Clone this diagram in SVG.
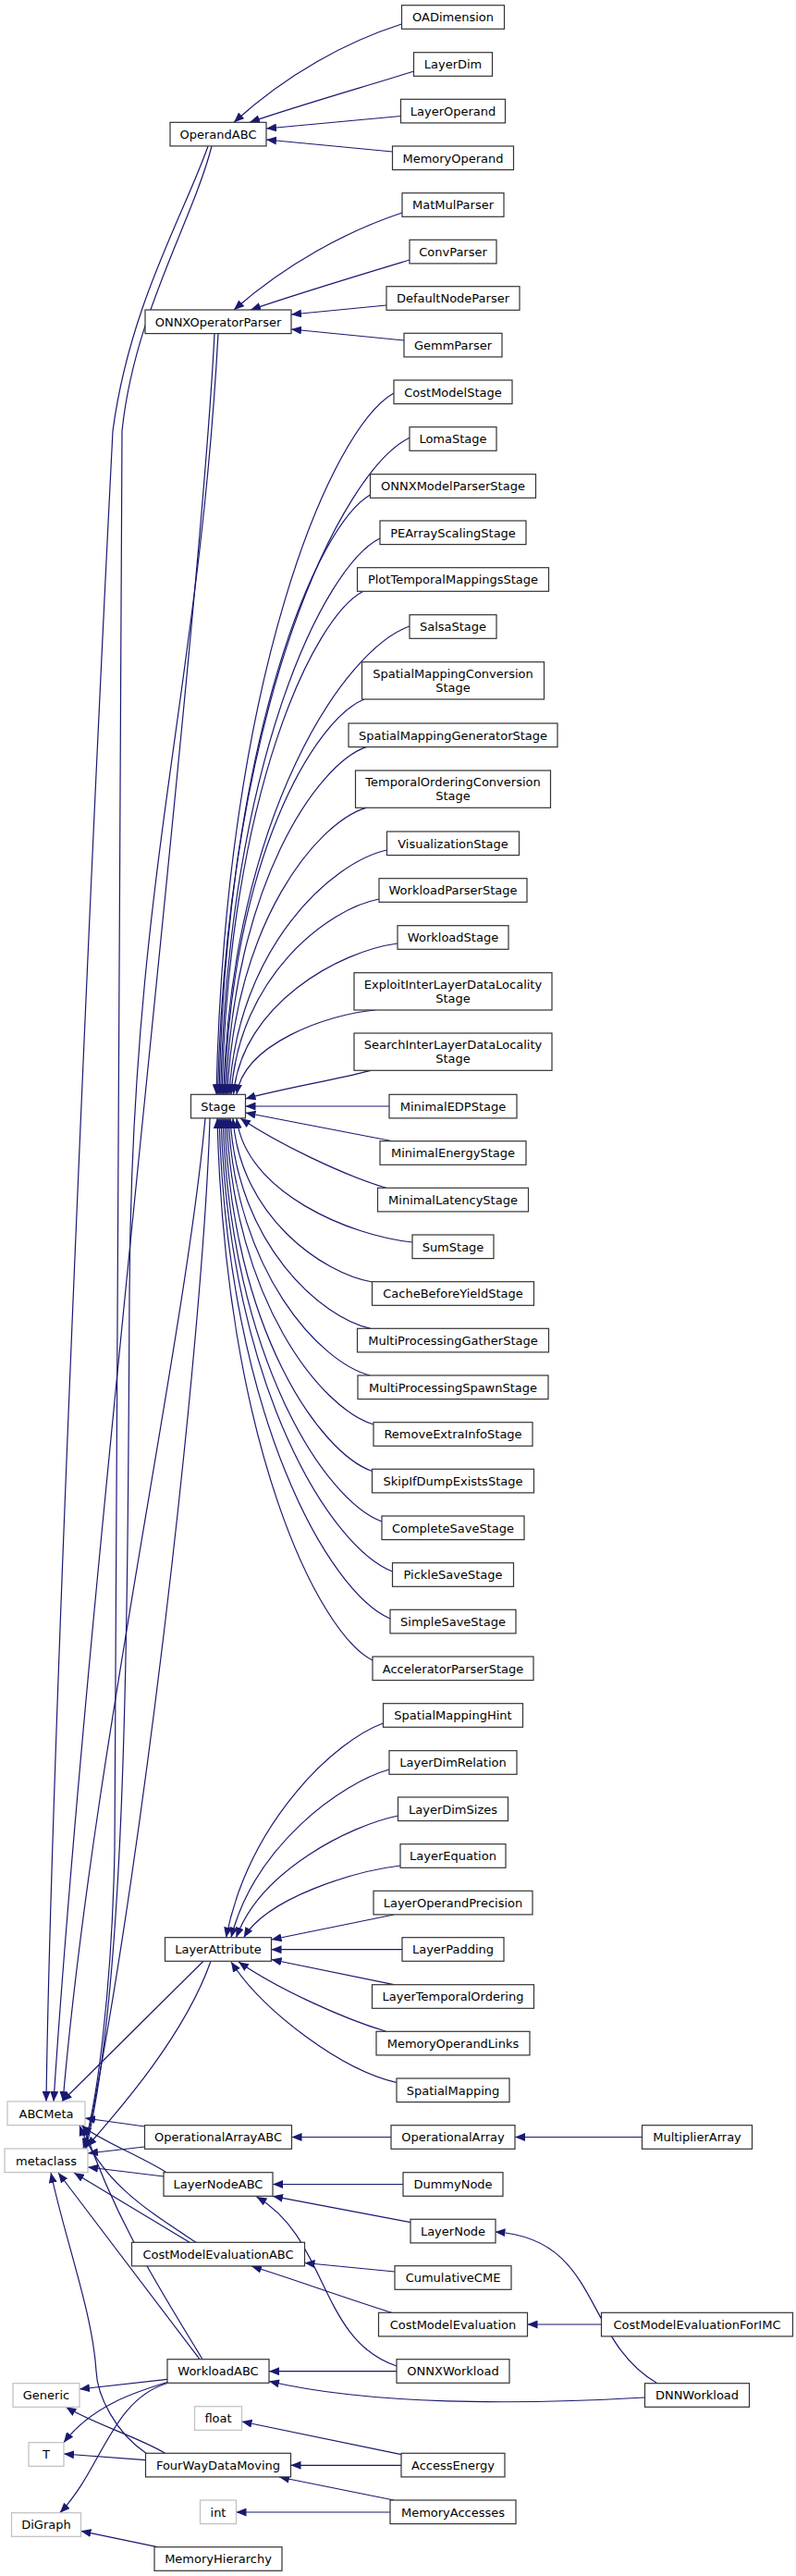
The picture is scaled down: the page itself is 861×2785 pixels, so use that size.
<svg xmlns="http://www.w3.org/2000/svg" width="861" height="2785" viewBox="0 0 861 2785">
<defs>
<style>
.n rect{fill:#fff;stroke:#333;stroke-width:1.2}
.x rect{fill:#fff;stroke:#bfbfbf;stroke-width:1.2}
text{font-family:"DejaVu Sans","Liberation Sans",sans-serif;font-size:13px;text-anchor:middle;fill:#000}
#edges path{fill:none;stroke:#191970;stroke-width:1.2;marker-end:url(#a)}
</style>
<marker id="a" markerUnits="userSpaceOnUse" markerWidth="11" markerHeight="9" refX="11" refY="4.5" orient="auto"><path d="M0,0 L11,4.5 L0,9 z" fill="#191970"/></marker>
</defs>
<rect width="861" height="2785" fill="#fff"/>
<g id="edges">
<path d="M434.5,26 C375,45 310,80 253,132.3"/>
<path d="M448,77 C390,95 320,115 270,132.3"/>
<path d="M433.5,125.5 L288,139"/>
<path d="M424.5,164 L288,151"/>
<path d="M435,230 C375,250 310,285 253,335"/>
<path d="M443,281 C390,297 320,318 271,335"/>
<path d="M418,330 L315,340"/>
<path d="M437,368 L315,356"/>
<path d="M426,425 C358.8,462.9 243.6,728.5 234,1183.3"/>
<path d="M443,473.3 C370.4,508.8 245.9,757.3 235.5,1183.3"/>
<path d="M400.5,535 C343.3,567.4 245.2,794.5 237,1183.3"/>
<path d="M411,582 C350.6,612 247.1,822.7 238.5,1183.3"/>
<path d="M393,639.3 C339.5,666.5 247.7,857 240,1183.3"/>
<path d="M443,677 C372.5,702 251.6,879.7 241.5,1183.3"/>
<path d="M394,756 C341,777 250.6,927 243,1183.3"/>
<path d="M396,807.6 C343,826 252,957.7 244.5,1183.3"/>
<path d="M396,873.3 C343.5,888.8 253.5,997.3 246,1183.3"/>
<path d="M418.5,919 C358.8,932 256.5,1024.9 248,1183.3"/>
<path d="M410,972 C354,982.6 258,1056.7 250,1183.3"/>
<path d="M430,1020 C367.9,1028 261.4,1085.5 252.5,1183.3"/>
<path d="M406,1092 C353.5,1096.6 263.5,1128.7 256,1183.3"/>
<path d="M401,1157.3 C360,1168 300,1178 265.5,1188"/>
<path d="M421,1196 L265.5,1196"/>
<path d="M426,1234 L265.5,1203"/>
<path d="M417.6,1284.3 C370,1270 300,1236 260,1209"/>
<path d="M446,1343 C379.5,1336.3 265.5,1289.4 256,1209"/>
<path d="M402.5,1386 C349.8,1377.2 259.5,1315.2 252,1209"/>
<path d="M401,1436.3 C347.8,1425 256.6,1345.4 249,1209"/>
<path d="M400,1487 C346.5,1473.1 254.7,1375.8 247,1209"/>
<path d="M404,1540 C348.4,1523.5 253,1407.6 245,1209"/>
<path d="M402.5,1590.5 C346.7,1571.4 251,1437.9 243,1209"/>
<path d="M413,1645 C352.8,1623.2 249.6,1470.6 241,1209"/>
<path d="M424.5,1699 C359.6,1674.5 248.3,1503 239,1209"/>
<path d="M422,1750 C357.3,1723 246.3,1533.6 237,1209"/>
<path d="M403,1795 C344.2,1765.7 243.4,1560.6 235,1209"/>
<path d="M414.5,1863 C363.5,1881.5 270,1967.3 244.5,2094.7"/>
<path d="M421,1913 C369.7,1927.5 275.7,1994.8 250,2094.7"/>
<path d="M431,1963 C378.4,1973.5 281.8,2022.3 255.5,2094.7"/>
<path d="M433,2017 C382.2,2023.2 289.1,2052 263.7,2094.7"/>
<path d="M426,2070 L293.5,2097"/>
<path d="M435,2107.7 L293.5,2107.7"/>
<path d="M426,2145.7 L293.5,2118.5"/>
<path d="M417.6,2196.3 C370,2182 300,2150 258,2121"/>
<path d="M428.6,2251.3 C370,2238 285,2175 250,2121"/>
<path d="M423,2310.5 L315.5,2310.5"/>
<path d="M694.5,2310.5 L557,2310.5"/>
<path d="M436,2361.5 L295,2361.5"/>
<path d="M444,2402.7 L295,2374.3"/>
<path d="M429,2558 C345,2530 355,2420 277.5,2375"/>
<path d="M427,2456 L329.5,2446.5"/>
<path d="M425.8,2501 C360,2480 320,2465 272,2450"/>
<path d="M650.5,2513 L570.5,2513"/>
<path d="M711,2576.7 C630,2530 650,2420 535.5,2413"/>
<path d="M429,2563.7 L291,2563.7"/>
<path d="M697.5,2592 C560,2600 400,2600 291,2574.5"/>
<path d="M434,2653.7 L261.5,2618"/>
<path d="M434,2665.3 L314.5,2665.3"/>
<path d="M426,2703 L302,2678"/>
<path d="M422,2716 L255.5,2716"/>
<path d="M170.3,2753.7 L87.5,2736.3"/>
<path d="M181,2572.3 L86,2583"/>
<path d="M181,2575.5 C150,2585 100,2600 69,2640.7"/>
<path d="M181,2576.5 C120,2595 110,2670 64.8,2716.7"/>
<path d="M157.5,2659.7 L69,2653"/>
<path d="M178.6,2652.3 C150,2635 100,2620 71.4,2602.3"/>
<path d="M225,158 C200,230 140,330 122,466 C100,900 55,1900 50,2272"/>
<path d="M229,158 C208,240 145,340 132,466 C128,1000 128,1800 124,2000 C121,2150 105,2275 90,2323"/>
<path d="M232,360.6 C215,700 95,1700 58,2272"/>
<path d="M236,360.6 C215,750 142,950 140,1400 C138,1800 135,2150 93,2323"/>
<path d="M222,1208.9 C200,1450 100,1900 68,2272"/>
<path d="M227,1208.9 C220,1450 150,2050 92,2323"/>
<path d="M220,2120.3 L67,2272"/>
<path d="M228,2120.3 C200,2200 130,2280 94,2321"/>
<path d="M156.5,2299 L92,2290"/>
<path d="M156.5,2321 L95,2328"/>
<path d="M177,2353 L95,2343"/>
<path d="M180,2348.7 C150,2330 110,2315 88,2298"/>
<path d="M205,2424.3 L80,2349"/>
<path d="M212,2424.3 C160,2390 110,2360 86,2298"/>
<path d="M216,2550.7 L63,2349"/>
<path d="M219,2550.7 C170,2470 125,2400 90,2298"/>
<path d="M158,2652.3 C125,2630 105,2590 104,2563 C100,2500 70,2420 55,2349"/>
</g>
<g id="OADimension" class="n"><rect x="434.5" y="5.7" width="111" height="25.6"/><text x="490" y="23.2">OADimension</text></g>
<g id="LayerDim" class="n"><rect x="447.5" y="56.7" width="85" height="25.6"/><text x="490" y="74.2">LayerDim</text></g>
<g id="LayerOperand" class="n"><rect x="433.5" y="107.3" width="113" height="25.6"/><text x="490" y="124.8">LayerOperand</text></g>
<g id="MemoryOperand" class="n"><rect x="424.5" y="158" width="131" height="25.6"/><text x="490" y="175.5">MemoryOperand</text></g>
<g id="MatMulParser" class="n"><rect x="435" y="208.7" width="110" height="25.6"/><text x="490" y="226.2">MatMulParser</text></g>
<g id="ConvParser" class="n"><rect x="443" y="259.3" width="94" height="25.6"/><text x="490" y="276.8">ConvParser</text></g>
<g id="DefaultNodeParser" class="n"><rect x="418" y="309.7" width="144" height="25.6"/><text x="490" y="327.2">DefaultNodeParser</text></g>
<g id="GemmParser" class="n"><rect x="437" y="360.3" width="106" height="25.6"/><text x="490" y="377.8">GemmParser</text></g>
<g id="CostModelStage" class="n"><rect x="426" y="411" width="128" height="25.6"/><text x="490" y="428.5">CostModelStage</text></g>
<g id="LomaStage" class="n"><rect x="443" y="461.7" width="94" height="25.6"/><text x="490" y="479.2">LomaStage</text></g>
<g id="ONNXModelParserStage" class="n"><rect x="400.5" y="512.7" width="179" height="25.6"/><text x="490" y="530.2">ONNXModelParserStage</text></g>
<g id="PEArrayScalingStage" class="n"><rect x="411" y="563" width="158" height="25.6"/><text x="490" y="580.5">PEArrayScalingStage</text></g>
<g id="PlotTemporalMappingsStage" class="n"><rect x="386.5" y="613.7" width="207" height="25.6"/><text x="490" y="631.2">PlotTemporalMappingsStage</text></g>
<g id="SalsaStage" class="n"><rect x="443" y="664.7" width="94" height="25.6"/><text x="490" y="682.2">SalsaStage</text></g>
<g id="SpatialMappingConversionStage" class="n"><rect x="391.5" y="715.7" width="197" height="40.3"/><text x="490" y="733">SpatialMappingConversion</text><text x="490" y="748">Stage</text></g>
<g id="SpatialMappingGeneratorStage" class="n"><rect x="377" y="782" width="226" height="25.6"/><text x="490" y="799.5">SpatialMappingGeneratorStage</text></g>
<g id="TemporalOrderingConversionStage" class="n"><rect x="384.5" y="833" width="211" height="40.3"/><text x="490" y="850.3">TemporalOrderingConversion</text><text x="490" y="865.3">Stage</text></g>
<g id="VisualizationStage" class="n"><rect x="418.5" y="899" width="143" height="25.6"/><text x="490" y="916.5">VisualizationStage</text></g>
<g id="WorkloadParserStage" class="n"><rect x="410" y="949.7" width="160" height="25.6"/><text x="490" y="967.2">WorkloadParserStage</text></g>
<g id="WorkloadStage" class="n"><rect x="430" y="1000.7" width="120" height="25.6"/><text x="490" y="1018.2">WorkloadStage</text></g>
<g id="ExploitInterLayerDataLocalityStage" class="n"><rect x="383" y="1051.7" width="214" height="40.3"/><text x="490" y="1069">ExploitInterLayerDataLocality</text><text x="490" y="1084">Stage</text></g>
<g id="SearchInterLayerDataLocalityStage" class="n"><rect x="383" y="1117" width="214" height="40.3"/><text x="490" y="1134.3">SearchInterLayerDataLocality</text><text x="490" y="1149.3">Stage</text></g>
<g id="MinimalEDPStage" class="n"><rect x="421" y="1183.3" width="138" height="25.6"/><text x="490" y="1200.8">MinimalEDPStage</text></g>
<g id="MinimalEnergyStage" class="n"><rect x="411" y="1233.7" width="158" height="25.6"/><text x="490" y="1251.2">MinimalEnergyStage</text></g>
<g id="MinimalLatencyStage" class="n"><rect x="408.5" y="1284.3" width="163" height="25.6"/><text x="490" y="1301.8">MinimalLatencyStage</text></g>
<g id="SumStage" class="n"><rect x="446" y="1335" width="88" height="25.6"/><text x="490" y="1352.5">SumStage</text></g>
<g id="CacheBeforeYieldStage" class="n"><rect x="402.5" y="1385.7" width="175" height="25.6"/><text x="490" y="1403.2">CacheBeforeYieldStage</text></g>
<g id="MultiProcessingGatherStage" class="n"><rect x="386.5" y="1436.3" width="207" height="25.6"/><text x="490" y="1453.8">MultiProcessingGatherStage</text></g>
<g id="MultiProcessingSpawnStage" class="n"><rect x="387" y="1487" width="206" height="25.6"/><text x="490" y="1504.5">MultiProcessingSpawnStage</text></g>
<g id="RemoveExtraInfoStage" class="n"><rect x="404" y="1537.7" width="172" height="25.6"/><text x="490" y="1555.2">RemoveExtraInfoStage</text></g>
<g id="SkipIfDumpExistsStage" class="n"><rect x="402.5" y="1588.3" width="175" height="25.6"/><text x="490" y="1605.8">SkipIfDumpExistsStage</text></g>
<g id="CompleteSaveStage" class="n"><rect x="413" y="1639" width="154" height="25.6"/><text x="490" y="1656.5">CompleteSaveStage</text></g>
<g id="PickleSaveStage" class="n"><rect x="424.5" y="1689.7" width="131" height="25.6"/><text x="490" y="1707.2">PickleSaveStage</text></g>
<g id="SimpleSaveStage" class="n"><rect x="422" y="1740.3" width="136" height="25.6"/><text x="490" y="1757.8">SimpleSaveStage</text></g>
<g id="AcceleratorParserStage" class="n"><rect x="403" y="1791" width="174" height="25.6"/><text x="490" y="1808.5">AcceleratorParserStage</text></g>
<g id="SpatialMappingHint" class="n"><rect x="414.5" y="1841.7" width="151" height="25.6"/><text x="490" y="1859.2">SpatialMappingHint</text></g>
<g id="LayerDimRelation" class="n"><rect x="421" y="1892.7" width="138" height="25.6"/><text x="490" y="1910.2">LayerDimRelation</text></g>
<g id="LayerDimSizes" class="n"><rect x="430.5" y="1943" width="119" height="25.6"/><text x="490" y="1960.5">LayerDimSizes</text></g>
<g id="LayerEquation" class="n"><rect x="433" y="1993.7" width="114" height="25.6"/><text x="490" y="2011.2">LayerEquation</text></g>
<g id="LayerOperandPrecision" class="n"><rect x="404" y="2044.3" width="172" height="25.6"/><text x="490" y="2061.8">LayerOperandPrecision</text></g>
<g id="LayerPadding" class="n"><rect x="435" y="2094.7" width="110" height="25.6"/><text x="490" y="2112.2">LayerPadding</text></g>
<g id="LayerTemporalOrdering" class="n"><rect x="402.5" y="2145.7" width="175" height="25.6"/><text x="490" y="2163.2">LayerTemporalOrdering</text></g>
<g id="MemoryOperandLinks" class="n"><rect x="407" y="2196.3" width="166" height="25.6"/><text x="490" y="2213.8">MemoryOperandLinks</text></g>
<g id="SpatialMapping" class="n"><rect x="429" y="2247" width="122" height="25.6"/><text x="490" y="2264.5">SpatialMapping</text></g>
<g id="OperationalArray" class="n"><rect x="423" y="2297.7" width="134" height="25.6"/><text x="490" y="2315.2">OperationalArray</text></g>
<g id="DummyNode" class="n"><rect x="436" y="2348.7" width="108" height="25.6"/><text x="490" y="2366.2">DummyNode</text></g>
<g id="LayerNode" class="n"><rect x="444" y="2399.3" width="92" height="25.6"/><text x="490" y="2416.8">LayerNode</text></g>
<g id="CumulativeCME" class="n"><rect x="427" y="2449.7" width="126" height="25.6"/><text x="490" y="2467.2">CumulativeCME</text></g>
<g id="CostModelEvaluation" class="n"><rect x="409.5" y="2500.3" width="161" height="25.6"/><text x="490" y="2517.8">CostModelEvaluation</text></g>
<g id="ONNXWorkload" class="n"><rect x="429" y="2550.7" width="122" height="25.6"/><text x="490" y="2568.2">ONNXWorkload</text></g>
<g id="AccessEnergy" class="n"><rect x="434" y="2652.3" width="112" height="25.6"/><text x="490" y="2669.8">AccessEnergy</text></g>
<g id="MemoryAccesses" class="n"><rect x="422" y="2703" width="136" height="25.6"/><text x="490" y="2720.5">MemoryAccesses</text></g>
<g id="OperandABC" class="n"><rect x="184" y="132.3" width="104" height="25.6"/><text x="236" y="149.8">OperandABC</text></g>
<g id="ONNXOperatorParser" class="n"><rect x="157" y="335" width="158" height="25.6"/><text x="236" y="352.5">ONNXOperatorParser</text></g>
<g id="Stage" class="n"><rect x="206.5" y="1183.3" width="59" height="25.6"/><text x="236" y="1200.8">Stage</text></g>
<g id="LayerAttribute" class="n"><rect x="178.5" y="2094.7" width="115" height="25.6"/><text x="236" y="2112.2">LayerAttribute</text></g>
<g id="OperationalArrayABC" class="n"><rect x="156.5" y="2297.7" width="159" height="25.6"/><text x="236" y="2315.2">OperationalArrayABC</text></g>
<g id="LayerNodeABC" class="n"><rect x="177" y="2348.7" width="118" height="25.6"/><text x="236" y="2366.2">LayerNodeABC</text></g>
<g id="CostModelEvaluationABC" class="n"><rect x="142.5" y="2424.3" width="187" height="25.6"/><text x="236" y="2441.8">CostModelEvaluationABC</text></g>
<g id="WorkloadABC" class="n"><rect x="181" y="2550.7" width="110" height="25.6"/><text x="236" y="2568.2">WorkloadABC</text></g>
<g id="float" class="x"><rect x="210.5" y="2601.7" width="51" height="25.6"/><text x="236" y="2619.2">float</text></g>
<g id="FourWayDataMoving" class="n"><rect x="157.5" y="2652.3" width="157" height="25.6"/><text x="236" y="2669.8">FourWayDataMoving</text></g>
<g id="int" class="x"><rect x="216.5" y="2703" width="39" height="25.6"/><text x="236" y="2720.5">int</text></g>
<g id="MemoryHierarchy" class="n"><rect x="167" y="2753.7" width="138" height="25.6"/><text x="236" y="2771.2">MemoryHierarchy</text></g>
<g id="ABCMeta" class="x"><rect x="8" y="2272" width="84" height="25.6"/><text x="50" y="2289.5">ABCMeta</text></g>
<g id="metaclass" class="x"><rect x="5" y="2323" width="90" height="25.6"/><text x="50" y="2340.5">metaclass</text></g>
<g id="Generic" class="x"><rect x="14" y="2576.7" width="72" height="25.6"/><text x="50" y="2594.2">Generic</text></g>
<g id="T" class="x"><rect x="31" y="2640.7" width="38" height="25.6"/><text x="50" y="2658.2">T</text></g>
<g id="DiGraph" class="x"><rect x="12.5" y="2716.7" width="75" height="25.6"/><text x="50" y="2734.2">DiGraph</text></g>
<g id="MultiplierArray" class="n"><rect x="694.5" y="2297.7" width="119" height="25.6"/><text x="754" y="2315.2">MultiplierArray</text></g>
<g id="CostModelEvaluationForIMC" class="n"><rect x="650.5" y="2500.3" width="207" height="25.6"/><text x="754" y="2517.8">CostModelEvaluationForIMC</text></g>
<g id="DNNWorkload" class="n"><rect x="697.5" y="2576.7" width="113" height="25.6"/><text x="754" y="2594.2">DNNWorkload</text></g>
</svg>
